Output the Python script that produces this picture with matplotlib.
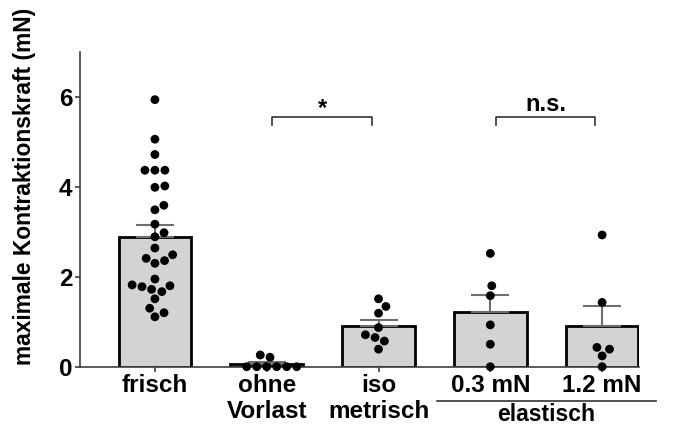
import numpy as np
import matplotlib
matplotlib.use('Agg')
import matplotlib.pyplot as plt
from matplotlib.transforms import blended_transform_factory

plt.rcParams['font.family'] = ['Liberation Sans', 'DejaVu Sans']
plt.rcParams['font.weight'] = 'bold'

# ---------------- data ----------------
categories = ['frisch', 'ohne\nVorlast', 'iso\nmetrisch', '0.3 mN', '1.2 mN']
frisch = [5.94, 5.06, 4.72, 4.37, 4.37, 4.37, 3.99, 4.02, 3.59, 3.49,
          3.17, 2.98, 2.89, 2.64, 2.49, 2.36, 2.30, 2.41, 1.95, 1.82,
          1.78, 1.80, 1.72, 1.67, 1.51, 1.30, 1.20, 1.11]
ohne_vorlast = [0.21, 0.26, 0.0, 0.0, 0.0, 0.0, 0.0, 0.0]
isometrisch = [1.51, 1.34, 1.19, 0.87, 0.71, 0.65, 0.57, 0.39]
elastisch_03 = [2.52, 1.80, 1.58, 0.93, 0.50, 0.0]
elastisch_12 = [2.93, 1.43, 0.43, 0.39, 0.24, 0.0]
groups = [frisch, ohne_vorlast, isometrisch, elastisch_03, elastisch_12]
yticks = [0, 2, 4, 6]
comparisons = [(1, 2, '*'), (3, 4, 'n.s.')]
group_label = 'elastisch'
group_members = (3, 4)
ylabel = 'maximale Kontraktionskraft (mN)'

# ---------------- figure ----------------
W, H = 673, 428
fig = plt.figure(figsize=(W / 100, H / 100), dpi=100)
ax = fig.add_axes([80 / W, (H - 366.7) / H, 559 / W, 314.7 / H])
ax.set_xlim(-0.67, 4.33)
ax.set_ylim(0, 7)

axis_color = '#404040'
x = np.arange(len(categories))
means = np.array([np.mean(g) for g in groups])
sems = np.array([np.std(g, ddof=1) / np.sqrt(len(g)) for g in groups])

ax.bar(x, means, width=0.65, color='#d3d3d3', edgecolor='black',
       linewidth=2.0, zorder=2)
ax.errorbar(x, means, yerr=[np.zeros_like(sems), sems], fmt='none',
            ecolor='#6e6e6e', elinewidth=1.5, capsize=13.5, capthick=1.5,
            zorder=3)


def swarm_x(ax, xc, values, d):
    tr = ax.transData
    vals = np.asarray(values, dtype=float)
    pts = tr.transform(np.column_stack([np.full(len(vals), xc), vals]))
    cx = pts[0, 0]
    order = np.argsort(pts[:, 1], kind='stable')
    placed = []
    offs = np.zeros(len(vals))
    for i in order:
        y = pts[i, 1]
        cands = [0.0]
        for px, py in placed:
            dy = y - py
            if abs(dy) < d:
                dx = np.sqrt(d * d - dy * dy)
                cands += [px + dx, px - dx]
        cands = sorted(cands, key=abs)
        chosen = cands[-1]
        for c in cands:
            if all((c - px) ** 2 + (y - py) ** 2 >= d * d - 1e-6
                   for px, py in placed):
                chosen = c
                break
        placed.append((chosen, y))
        offs[i] = chosen
    return tr.inverted().transform(np.column_stack([cx + offs, pts[:, 1]]))[:, 0]


for i, g in enumerate(groups):
    xs = swarm_x(ax, x[i], g, 10.0)
    ax.scatter(xs, g, s=40, color='black', edgecolor='none', zorder=4,
               clip_on=False)

# significance brackets
for a, b, lab in comparisons:
    x1, x2 = a + 0.05, b - 0.06
    y0, y1 = 5.38, 5.56
    ax.plot([x1, x1, x2, x2], [y0, y1, y1, y0], color='#333333', lw=1.2,
            zorder=5)
    ax.text((x1 + x2) / 2, 5.6 if lab == '*' else 5.68, lab, ha='center',
            va='baseline', fontsize=17, fontweight='bold')

# axes styling
for s in ['top', 'right']:
    ax.spines[s].set_visible(False)
for s in ['left', 'bottom']:
    ax.spines[s].set_color(axis_color)
    ax.spines[s].set_linewidth(1.2)
ax.set_yticks(yticks)
ax.set_xticks(x)
ax.set_xticklabels(categories, fontsize=17.5, fontweight='bold')
ax.tick_params(axis='both', direction='out', length=3.6, width=1.2,
               color=axis_color, labelsize=17.5, pad=2)
ax.tick_params(axis='x', pad=1.5)
for t in ax.get_yticklabels():
    t.set_fontweight('bold')

# group line "elastisch"
bt = blended_transform_factory(ax.transData, ax.transAxes)
ax.plot([group_members[0] - 0.48, group_members[1] + 0.48], [-0.108, -0.108],
        color='#333333', lw=1.2, transform=bt, clip_on=False)
ax.text(np.mean(group_members), -0.152, group_label, transform=bt,
        ha='center', va='center', fontsize=16.5, fontweight='bold')

fig.text(25 / W, (H - 186.5) / H, ylabel, rotation=90, ha='center',
         va='center', fontsize=16.4, fontweight='bold')

fig.savefig('out.png', dpi=100)
